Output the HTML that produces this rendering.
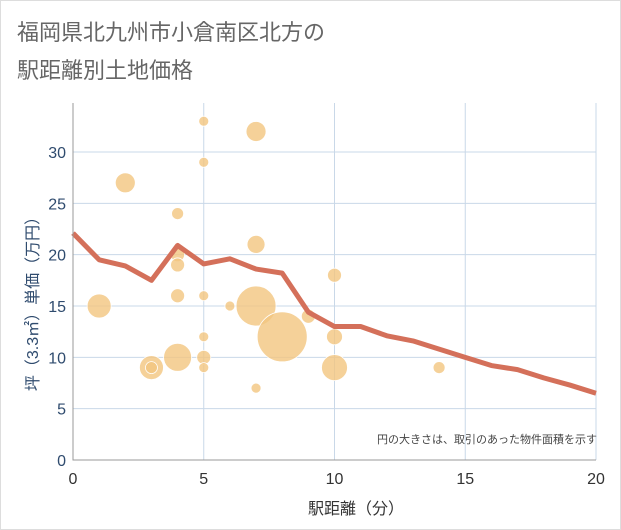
<!DOCTYPE html>
<html><head><meta charset="utf-8"><style>
body{margin:0;background:#fff;}
svg{display:block;font-family:"Liberation Sans","Noto Sans CJK JP",sans-serif;}
</style></head><body>
<svg id="c" width="621" height="530">
<rect x="0.5" y="0.5" width="620" height="529" fill="#fff" stroke="#ddd"/>
<text x="17" y="40" font-size="22" fill="#666">福岡県北九州市小倉南区北方の</text>
<text x="17" y="78" font-size="22" fill="#666">駅距離別土地価格</text>
<g id="grid"></g>
<g id="bubbles"></g>
<path id="line" fill="none" stroke="#d4705a" stroke-width="5" stroke-linejoin="round"/>
<g id="axes"></g>
<text x="597" y="443" font-size="11" fill="#444" text-anchor="end">円の大きさは、取引のあった物件面積を示す</text>
<text x="356" y="514" font-size="16" fill="#333" text-anchor="middle">駅距離（分）</text>
<text transform="translate(38,300) rotate(-90)" font-size="16" fill="#2f4b6e" text-anchor="middle">坪（3.3㎡）単価（万円）</text>
</svg>
<script>
const xTicks=[0,5,10,15,20];
const yTicks=[0,5,10,15,20,25,30];
const lineX=[0,1,2,3,4,5,6,7,8,9,10,11,12,13,14,15,16,17,18,19,20];
const lineY=[22.1,19.5,18.9,17.5,20.9,19.1,19.6,18.6,18.2,14.4,13,13,12.1,11.6,10.8,10,9.2,8.8,8,7.3,6.5];
const bubX=[5,7,5,2,4,4,4,7,4,5,1,6,7,8,9,10,10,5,5,4,3,3,5,10,7,14];
const bubY=[33,32,29,27,24,20,19,21,16,16,15,15,15,12,14,18,12,12,10,10,9,9,9,9,7,9];
const bubR=[5,10,5,10,6,7,7,9,7,5,12,5,20,25,7,7,8,5,7,14,12,6,5,13,5,6];
const X=v=>73+v*(596-73)/20, Y=v=>460-v*(460-152)/30;
const NS='http://www.w3.org/2000/svg';
function mk(t,a,p){const e=document.createElementNS(NS,t);for(const k in a)e.setAttribute(k,a[k]);p.appendChild(e);return e;}
const g=document.getElementById('grid'),ax=document.getElementById('axes'),b=document.getElementById('bubbles');
xTicks.forEach(v=>{if(v>0){const l=mk('line',{x1:X(v),x2:X(v),y1:103,y2:460,stroke:'#c9d8e8'},g);

}
const t=mk('text',{x:X(v),y:484,'font-size':16,fill:'#333','text-anchor':'middle'},ax);t.textContent=v;

});
yTicks.forEach(v=>{if(v>0){const l=mk('line',{x1:73,x2:596,y1:Y(v),y2:Y(v),stroke:'#c9d8e8'},g);

}
const t=mk('text',{x:66,y:Y(v)+6,'font-size':16,fill:'#2f4b6e','text-anchor':'end'},ax);t.textContent=v;

});
const al=mk('path',{d:'M73,103V460H596',fill:'none',stroke:'#999'},ax);


bubX.forEach((x,i)=>{const c=mk('circle',{cx:X(x),cy:Y(bubY[i]),r:bubR[i],fill:'#f3c57f','fill-opacity':0.8,stroke:'#fff','stroke-width':0.8},b);

});
document.getElementById('line').setAttribute('d',lineX.map((x,i)=>(i?'L':'M')+X(x)+','+Y(lineY[i])).join(''));
</script>
</body></html>
